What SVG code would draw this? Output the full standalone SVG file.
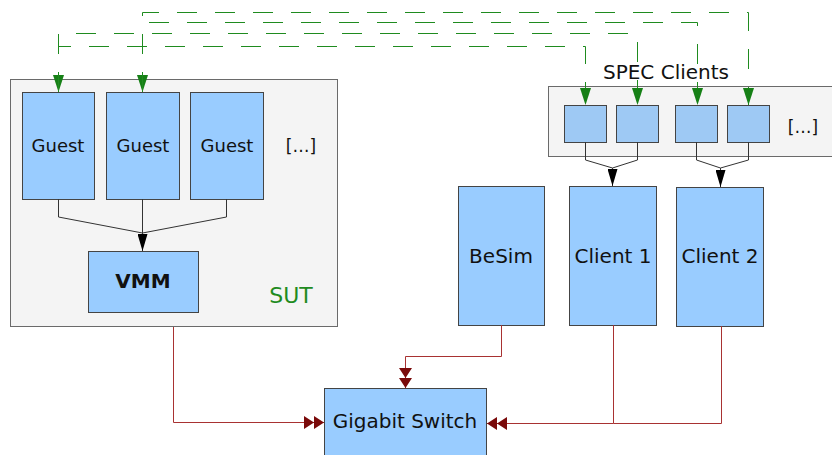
<svg xmlns="http://www.w3.org/2000/svg" width="832" height="455" viewBox="0 0 832 455">
<style>
text{font-family:"DejaVu Sans","Liberation Sans",sans-serif;fill:#111;text-anchor:middle}
.cont{fill:#f4f4f4;stroke:#6a6a6a;stroke-width:1}
.box{fill:#99ccff;stroke:#444;stroke-width:1}
.sbox{fill:#9ec9f4;stroke:#444;stroke-width:1}
.dash{fill:none;stroke:#1f8b1f;stroke-width:1;stroke-dasharray:20 18}
.blk{fill:none;stroke:#333;stroke-width:1}
.red{fill:none;stroke:#a83232;stroke-width:1}
</style>
<defs>
<marker id="ga" markerUnits="userSpaceOnUse" viewBox="0 0 17 11" markerWidth="17" markerHeight="11" refX="17" refY="5.5" orient="auto-start-reverse"><path d="M0,0 L17,5.5 L0,11 z" fill="#168016"/></marker>
<marker id="ba" markerUnits="userSpaceOnUse" viewBox="0 0 17 10" markerWidth="17" markerHeight="10" refX="17" refY="5" orient="auto"><path d="M0,0 L17,5 L0,10 z" fill="#000"/></marker>
<marker id="ra" markerUnits="userSpaceOnUse" viewBox="0 0 20 13" markerWidth="20" markerHeight="13" refX="20" refY="6.5" orient="auto"><path d="M0,0 L10,6.5 L0,13 z M10,0 L20,6.5 L10,13 z" fill="#7a0a0a"/></marker>
</defs>

<g id="sut">
<rect class="cont" x="10.5" y="79.5" width="327" height="247"/>
<text x="291" y="303" font-size="22" style="fill:#1f8b1f">SUT</text>
<text x="301" y="152" font-size="17">[…]</text>
</g>
<g id="guest1"><rect class="box" x="22.5" y="92.5" width="72" height="107"/><text x="58" y="152" font-size="18">Guest</text></g>
<g id="guest2"><rect class="box" x="106.5" y="92.5" width="73" height="107"/><text x="143" y="152" font-size="18">Guest</text></g>
<g id="guest3"><rect class="box" x="190.5" y="92.5" width="73" height="107"/><text x="227" y="152" font-size="18">Guest</text></g>
<g id="vmm"><rect class="box" x="88.5" y="251.5" width="110" height="61"/><text x="143" y="288" font-size="20" font-weight="bold">VMM</text></g>

<g id="spec-clients">
<rect class="cont" x="548.5" y="86.5" width="300" height="70"/>
<text x="666" y="79" font-size="20">SPEC Clients</text>
<text x="803" y="133" font-size="17">[…]</text>
</g>
<g id="sc1"><rect class="sbox" x="564.5" y="105.5" width="42" height="37"/></g>
<g id="sc2"><rect class="sbox" x="616.5" y="105.5" width="42" height="37"/></g>
<g id="sc3"><rect class="sbox" x="675.5" y="105.5" width="42" height="37"/></g>
<g id="sc4"><rect class="sbox" x="727.5" y="105.5" width="42" height="37"/></g>

<g id="besim"><rect class="box" x="458.5" y="186.5" width="86" height="139"/><text x="501" y="263" font-size="20">BeSim</text></g>
<g id="client1"><rect class="box" x="569.5" y="186.5" width="87" height="139"/><text x="613" y="263" font-size="20">Client 1</text></g>
<g id="client2"><rect class="box" x="676.5" y="187.5" width="87" height="139"/><text x="720" y="263" font-size="20">Client 2</text></g>
<g id="switch"><rect class="box" x="324.5" y="388.5" width="162" height="80"/><text x="405" y="428" font-size="20">Gigabit Switch</text></g>

<g id="connectors">
<path class="dash" d="M58.5,92 V33.5 H637.5 V105" marker-start="url(#ga)" marker-end="url(#ga)"/>
<path class="dash" d="M58.5,92 V46.5 H585.5 V105" marker-end="url(#ga)"/>
<path class="dash" d="M142.5,92 V22.5 H697.5 V105" marker-start="url(#ga)" marker-end="url(#ga)"/>
<path class="dash" d="M142.5,92 V12.5 H748.5 V105" marker-end="url(#ga)"/>

<path class="blk" d="M58.5,199 V217 L142.5,233"/>
<path class="blk" d="M226.5,199 V217 L142.5,233"/>
<path class="blk" d="M142.5,199 V251" marker-end="url(#ba)"/>

<path class="blk" d="M585.5,142 V160 L612.5,168"/>
<path class="blk" d="M637.5,142 V160 L612.5,168 V186" marker-end="url(#ba)"/>
<path class="blk" d="M748.5,142 V160 L720.5,168"/>
<path class="blk" d="M696.5,142 V160 L720.5,168 V187" marker-end="url(#ba)"/>

<path class="red" d="M173.5,327 V422.5 H324" marker-end="url(#ra)"/>
<path class="red" d="M501.5,325 V356.5 H405.5 V388" marker-end="url(#ra)"/>
<path class="red" d="M613.5,325 V423.5 H487" marker-end="url(#ra)"/>
<path class="red" d="M721.5,326 V423.5 H613.5"/>
</g>
</svg>
